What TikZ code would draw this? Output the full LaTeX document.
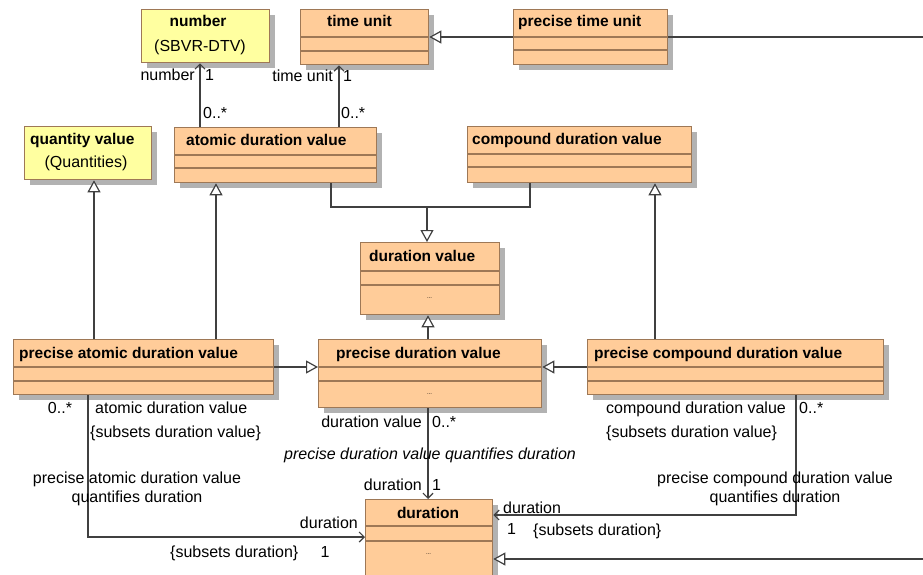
\documentclass[tikz,border=0pt]{standalone}
\usepackage{fontspec}
\setmainfont{Liberation Sans}
\usetikzlibrary{arrows.meta,shadows}
\definecolor{orng}{RGB}{255,204,153}
\definecolor{ylw}{RGB}{255,255,160}
\definecolor{bord}{RGB}{158,120,86}
\definecolor{ln}{RGB}{64,64,64}
\begin{document}
\begin{tikzpicture}[x=1pt,y=-1pt,
 cls/.style={draw=bord, line width=1.3pt, rectangle, anchor=north west, inner sep=0pt,
   drop shadow={shadow xshift=5pt,shadow yshift=-5pt,fill=black!30,opacity=1}},
 cline/.style={draw=bord, line width=1.1pt},
 title/.style={font=\fontsize{15.5}{18}\selectfont\bfseries, inner sep=0pt},
 lbl/.style={font=\fontsize{16}{19}\selectfont, inner sep=0pt},
 dots/.style={font=\fontsize{6}{7}\selectfont, inner sep=0pt},
 conn/.style={draw=ln, line width=1.2pt},
 gen/.style={conn, -{Triangle[open,length=12pt,width=13pt,fill=white]}},
 nav/.style={conn, -{Straight Barb[length=5pt,width=10pt]}},
]
\clip (0,0) rectangle (923,575);
\fill[white] (0,0) rectangle (923,575);

% ---------- boxes ----------
\node[cls, fill=ylw, minimum width=128pt, minimum height=53pt] (num) at (141,9) {};
\node[title, anchor=base] (numT) at (198,27) {number};
\node[lbl, anchor=base] (numS) at (200,51.5) {(SBVR-DTV)};

\node[cls, fill=orng, minimum width=128pt, minimum height=55pt] (tu) at (300,9) {};
\draw[cline] (tu.west |- 0,37) -- (tu.east |- 0,37);
\draw[cline] (tu.west |- 0,51) -- (tu.east |- 0,51);
\node[title, anchor=base west] (tuT) at (327,27) {time unit};

\node[cls, fill=orng, minimum width=154pt, minimum height=55pt] (ptu) at (513,9) {};
\draw[cline] (ptu.west |- 0,37) -- (ptu.east |- 0,37);
\draw[cline] (ptu.west |- 0,50) -- (ptu.east |- 0,50);
\node[title, anchor=base west] (ptuT) at (518,27) {precise time unit};

\node[cls, fill=ylw, minimum width=127pt, minimum height=53pt] (qv) at (24,126) {};
\node[title, anchor=base west] (qvT) at (30,145) {quantity value};
\node[lbl, anchor=base] (qvS) at (86,167) {(Quantities)};

\node[cls, fill=orng, minimum width=202pt, minimum height=55pt] (adv) at (174,127) {};
\draw[cline] (adv.west |- 0,155) -- (adv.east |- 0,155);
\draw[cline] (adv.west |- 0,168) -- (adv.east |- 0,168);
\node[title, anchor=base west] (advT) at (186,146) {atomic duration value};

\node[cls, fill=orng, minimum width=224pt, minimum height=56pt] (cdv) at (467,126) {};
\draw[cline] (cdv.west |- 0,154) -- (cdv.east |- 0,154);
\draw[cline] (cdv.west |- 0,167) -- (cdv.east |- 0,167);
\node[title, anchor=base west] (cdvT) at (472,145) {compound duration value};

\node[cls, fill=orng, minimum width=139pt, minimum height=72pt] (dv) at (360,242) {};
\draw[cline] (dv.west |- 0,271) -- (dv.east |- 0,271);
\draw[cline] (dv.west |- 0,285) -- (dv.east |- 0,285);
\node[title, anchor=base west] (dvT) at (369,261) {duration value};
\node[dots] (dvD) at (429.5,298) {...};

\node[cls, fill=orng, minimum width=260pt, minimum height=55pt] (padv) at (13,339) {};
\draw[cline] (padv.west |- 0,367) -- (padv.east |- 0,367);
\draw[cline] (padv.west |- 0,381) -- (padv.east |- 0,381);
\node[title, anchor=base west] (padvT) at (19,358) {precise atomic duration value};

\node[cls, fill=orng, minimum width=223pt, minimum height=68pt] (pdv) at (318,339) {};
\draw[cline] (pdv.west |- 0,367) -- (pdv.east |- 0,367);
\draw[cline] (pdv.west |- 0,381) -- (pdv.east |- 0,381);
\node[title, anchor=base west] (pdvT) at (336,358) {precise duration value};
\node[dots] (pdvD) at (429.5,394) {...};

\node[cls, fill=orng, minimum width=296pt, minimum height=55pt] (pcdv) at (587,339) {};
\draw[cline] (pcdv.west |- 0,367) -- (pcdv.east |- 0,367);
\draw[cline] (pcdv.west |- 0,381) -- (pcdv.east |- 0,381);
\node[title, anchor=base west] (pcdvT) at (594,358) {precise compound duration value};

\node[cls, fill=orng, minimum width=127pt, minimum height=90pt] (dur) at (365,499) {};
\draw[cline] (dur.west |- 0,526) -- (dur.east |- 0,526);
\draw[cline] (dur.west |- 0,541) -- (dur.east |- 0,541);
\node[title, anchor=base] (durT) at (428,518) {duration};
\node[dots] (durD) at (428.5,554) {...};

% ---------- coordinates ----------
\coordinate (rightA) at (923,37);
\coordinate (rightB) at (923,559);
\coordinate (gj) at (427,207);

% ---------- connectors ----------
\draw[conn] (rightA) -- (ptu.east |- rightA);
\draw[gen] (ptu.west |- rightA) -- (tu.east |- rightA);

\draw[nav] (adv.north -| 200,0) -- (num.south -| 200,0);
\draw[nav] (adv.north -| 339,0) -- (tu.south -| 339,0);

\draw[conn] (adv.south -| 331,0) |- (gj);
\draw[conn] (cdv.south -| 530,0) |- (gj);
\draw[gen] (gj) -- (dv.north -| gj);

\draw[gen] (padv.north -| 94,0) -- (qv.south -| 94,0);
\draw[gen] (padv.north -| 216,0) -- (adv.south -| 216,0);
\draw[gen] (pcdv.north -| 655,0) -- (cdv.south -| 655,0);
\draw[gen] (pdv.north -| 428,0) -- (dv.south -| 428,0);
\draw[gen] (padv.east |- 0,367) -- (pdv.west |- 0,367);
\draw[gen] (pcdv.west |- 0,367) -- (pdv.east |- 0,367);

\draw[nav] (pdv.south -| 428,0) -- (dur.north -| 428,0);
\draw[nav] (padv.south -| 88,0) |- (dur.west |- 0,537);
\draw[nav] (pcdv.south -| 796,0) |- (dur.east |- 0,515);
\draw[gen] (rightB) -- (dur.east |- rightB);

% ---------- labels ----------
\node[lbl, anchor=base east] (l1) at (195,81) {number};
\node[lbl, anchor=base west] (l2) at (205,81) {1};
\node[lbl, anchor=base west] (l3) at (203,118) {0..*};
\node[lbl, anchor=base east] (l4) at (333,82) {time unit};
\node[lbl, anchor=base west] (l5) at (343,82) {1};
\node[lbl, anchor=base west] (l6) at (341,118) {0..*};

\node[lbl, anchor=base] (l7) at (60,413) {0..*};
\node[lbl, anchor=base west] (l8) at (95,413) {atomic duration value};
\node[lbl, anchor=base west] (l9) at (90,437) {\{subsets duration value\}};
\node[lbl, anchor=base, align=center] (l10) at (137,502) {precise atomic duration value\\quantifies duration};
\node[lbl, anchor=base east] (l11) at (358,528) {duration};
\node[lbl, anchor=base west] (l12) at (170,557) {\{subsets duration\}};
\node[lbl, anchor=base] (l13) at (325,557) {1};

\node[lbl, anchor=base east] (l14) at (422,427) {duration value};
\node[lbl, anchor=base west] (l15) at (432,427) {0..*};
\node[lbl, anchor=base, font=\fontsize{16}{19}\selectfont\itshape] (l16) at (430,459) {precise duration value quantifies duration};
\node[lbl, anchor=base east] (l17) at (422,490) {duration};
\node[lbl, anchor=base west] (l18) at (432,490) {1};

\node[lbl, anchor=base west] (l19) at (606,413) {compound duration value};
\node[lbl, anchor=base west] (l20) at (799,413) {0..*};
\node[lbl, anchor=base west] (l21) at (606,437) {\{subsets duration value\}};
\node[lbl, anchor=base, align=center] (l22) at (775,502) {precise compound duration value\\quantifies duration};
\node[lbl, anchor=base west] (l23) at (503,513) {duration};
\node[lbl, anchor=base west] (l24) at (507,534) {1};
\node[lbl, anchor=base west] (l25) at (533,535) {\{subsets duration\}};
\end{tikzpicture}
\end{document}
